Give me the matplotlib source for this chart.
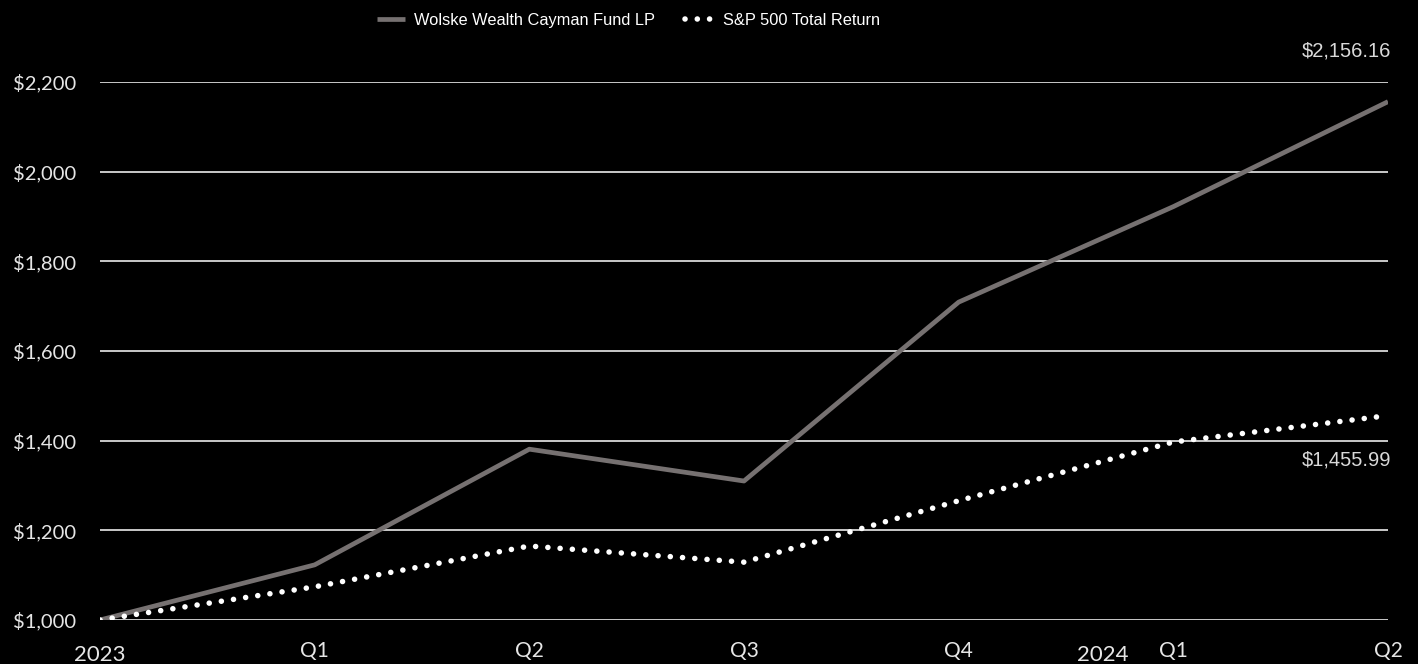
import matplotlib
matplotlib.use('Agg')
import matplotlib.pyplot as plt

# Growth of $1,000
quarters = ['2023', 'Q1', 'Q2', 'Q3', 'Q4', 'Q1', 'Q2']
years = ['2023', '2024']
year_pos = [0, 4.67]
fund = [1000, 1123, 1381, 1310, 1709, 1922, 2156.16]
sp500 = [1000, 1074, 1165, 1129, 1266, 1397, 1455.99]
fund_label = 'Wolske Wealth Cayman Fund LP'
sp_label = 'S&P 500 Total Return'
yticks = [1000, 1200, 1400, 1600, 1800, 2000, 2200]

fig = plt.figure(figsize=(14.18, 6.64), dpi=100, facecolor='black')
ax = fig.add_axes([100 / 1418, 44 / 664, 1288 / 1418, 538 / 664])
ax.set_facecolor('black')

x = list(range(len(quarters)))
ax.plot(x, fund, color='#767171', lw=3.4, solid_capstyle='butt', label=fund_label, zorder=3)
ax.plot(x, sp500, color='white', lw=4.0, linestyle=(0, (0.01, 2.2)),
        dash_capstyle='round', label=sp_label, zorder=4)

ax.set_xlim(0, len(quarters) - 1)
ax.set_ylim(1000, 2200)
ax.set_yticks(yticks)
ax.set_yticklabels([f'${v:,.0f}' for v in yticks], fontfamily='Lato', fontsize=14.5, color='#e6e6e6')
ax.grid(axis='y', color='#d9d9d9', lw=1.3)
ax.set_axisbelow(True)
ax.tick_params(axis='y', length=0, pad=17)

# quarter labels on the axis, years as separate text
ax.set_xticks(x[1:])
ax.set_xticklabels(quarters[1:], fontfamily='Lato', fontsize=15, color='#e6e6e6')
ax.tick_params(axis='x', length=0, pad=15)
for yr, pos in zip(years, year_pos):
    ax.text(pos, -41 / 538, yr, transform=ax.get_xaxis_transform(), ha='center', va='baseline',
            fontfamily='Lato', fontsize=16, color='#e6e6e6', clip_on=False)

for s in ax.spines.values():
    s.set_visible(False)

# end values
ax.annotate(f'${fund[-1]:,.2f}', (x[-1], fund[-1]), xytext=(3, 51), textcoords='offset pixels',
            ha='right', va='center', fontfamily='Liberation Sans', fontsize=14.5, color='#d9d9d9')
ax.annotate(f'${sp500[-1]:,.2f}', (x[-1], sp500[-1]), xytext=(3, -44), textcoords='offset pixels',
            ha='right', va='center', fontfamily='Liberation Sans', fontsize=14.5, color='#d9d9d9')

fig.legend(loc='upper center', bbox_to_anchor=(0.443, 1.003), ncol=2, frameon=False,
           prop={'family': 'Liberation Sans', 'size': 11.8}, labelcolor='white',
           handlelength=1.7, columnspacing=1.8, handletextpad=0.6)

fig.savefig('out.png', dpi=100, facecolor='black')
